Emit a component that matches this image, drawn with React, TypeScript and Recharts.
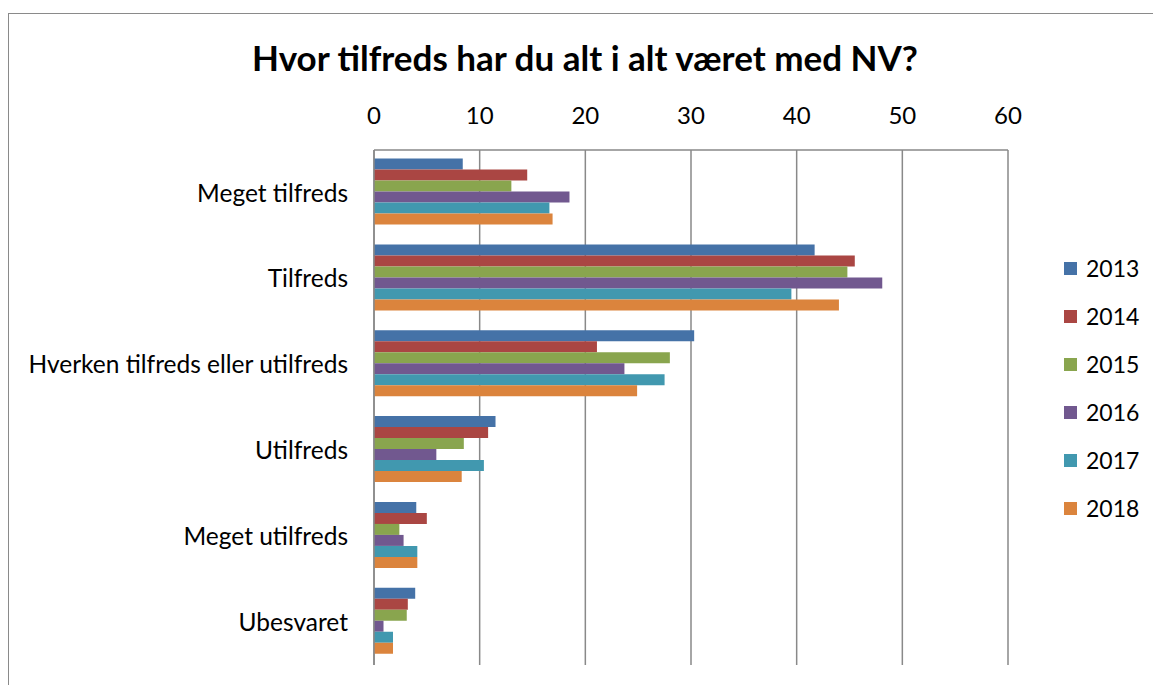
import { BarChart, Bar, XAxis, YAxis, CartesianGrid, Legend } from "recharts";

const categories = [
  "Meget tilfreds",
  "Tilfreds",
  "Hverken tilfreds eller utilfreds",
  "Utilfreds",
  "Meget utilfreds",
  "Ubesvaret",
];

const years = ["2013", "2014", "2015", "2016", "2017", "2018"];
const colors = ["#4572A7", "#AA4643", "#89A54E", "#71588F", "#4198AF", "#DB843D"];

const v2013 = [8.4, 41.7, 30.3, 11.5, 4.0, 3.9];
const v2014 = [14.5, 45.5, 21.1, 10.8, 5.0, 3.2];
const v2015 = [13.0, 44.8, 28.0, 8.5, 2.4, 3.1];
const v2016 = [18.5, 48.1, 23.7, 5.9, 2.8, 0.9];
const v2017 = [16.6, 39.5, 27.5, 10.4, 4.1, 1.8];
const v2018 = [16.9, 44.0, 24.9, 8.3, 4.1, 1.8];

const xTicks = [0, 10, 20, 30, 40, 50, 60];

const series = [v2013, v2014, v2015, v2016, v2017, v2018];

const data = categories.map((name, i) => {
  const row: Record<string, string | number> = { name };
  years.forEach((y, j) => {
    row[y] = series[j][i];
  });
  return row;
});

const font = "Lato, 'Open Sans', sans-serif";
const grid = "#898989";

const LegendBox = (props: any) => {
  const payload = props.payload || [];
  return (
    <div style={{ fontFamily: font, fontSize: 23, color: "#000" }}>
      {payload.map((p: any) => (
        <div key={p.value} style={{ display: "flex", alignItems: "center", height: 48 }}>
          <span style={{ width: 13, height: 13, background: p.color, display: "inline-block", marginRight: 9 }} />
          <span>{p.value}</span>
        </div>
      ))}
    </div>
  );
};

export default function App() {
  return (
    <div style={{ position: "absolute", left: 0, top: 0, width: 1153, height: 685, overflow: "hidden", background: "#fff" }}>
      <div
        style={{
          position: "absolute",
          left: 8,
          top: 13,
          width: 1200,
          height: 700,
          borderLeft: "1.5px solid #8a8a8a",
          borderTop: "1.5px solid #8a8a8a",
        }}
      />
      <div
        style={{
          position: "absolute",
          left: 0,
          top: 35,
          width: 1170,
          textAlign: "center",
          fontFamily: font,
          fontWeight: "bold",
          fontSize: 35,
          color: "#000",
          lineHeight: "44px",
        }}
      >
        Hvor tilfreds har du alt i alt været med NV?
      </div>
      <div style={{ position: "absolute", left: 0, top: 0 }}>
        <BarChart
          width={1153}
          height={685}
          data={data}
          layout="vertical"
          barCategoryGap="10%"
          barGap={0}
          margin={{ top: 110, right: 55, bottom: 20, left: 0 }}
        >
          <CartesianGrid horizontal={false} stroke={grid} strokeWidth={1.5} />
          <XAxis
            type="number"
            orientation="top"
            domain={[0, 60]}
            ticks={xTicks}
            height={40}
            tickSize={0}
            tickMargin={26}
            axisLine={{ stroke: grid, strokeWidth: 1.5 }}
            tickLine={false}
            tick={{ fontSize: 24, fill: "#000", fontFamily: font }}
            interval={0}
          />
          <YAxis
            type="category"
            dataKey="name"
            width={374}
            tickSize={0}
            tickMargin={26}
            axisLine={{ stroke: grid, strokeWidth: 1.5 }}
            tickLine={false}
            tick={{ fontSize: 24.5, fill: "#000", fontFamily: font }}
            interval={0}
          />
          <Legend
            layout="vertical"
            align="right"
            verticalAlign="top"
            content={<LegendBox />}
            wrapperStyle={{ left: 1064, top: 244, width: 90 }}
          />
          {years.map((y, j) => (
            <Bar key={y} dataKey={y} fill={colors[j]} isAnimationActive={false} />
          ))}
        </BarChart>
      </div>
    </div>
  );
}
